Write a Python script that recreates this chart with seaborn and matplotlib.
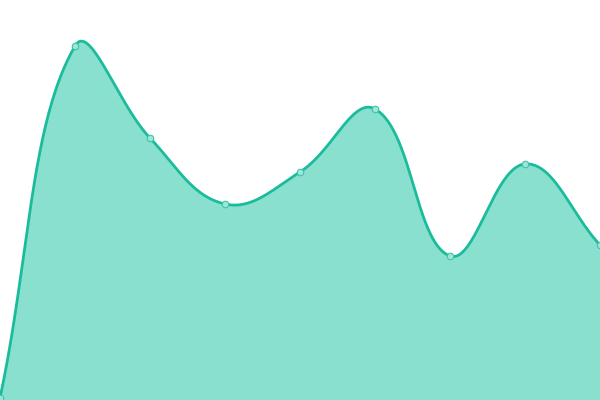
import numpy as np
import pandas as pd
import matplotlib
matplotlib.use("Agg")
import matplotlib.pyplot as plt
import seaborn as sns

x_vals = [0, 75, 150, 225, 300, 375, 450, 525, 600]
y_vals = [2, 354, 262, 196, 228, 291, 144, 236, 155]

LINE = "#1abc9c"
FILL = "#8ae0ce"
TENSION = 0.4


def smooth_curve(xs, ys, tension=TENSION, n=50):
    xs = np.asarray(xs, float)
    ys = np.asarray(ys, float)
    m = len(xs)
    cin, cout = [], []
    for i in range(m):
        px, py = (xs[i - 1], ys[i - 1]) if i > 0 else (xs[i], ys[i])
        nx, ny = (xs[i + 1], ys[i + 1]) if i < m - 1 else (xs[i], ys[i])
        vx, vy = nx - px, ny - py
        d01 = np.hypot(xs[i] - px, ys[i] - py)
        d12 = np.hypot(nx - xs[i], ny - ys[i])
        s = d01 + d12
        fa = tension * d01 / s if s > 0 else 0
        fb = tension * d12 / s if s > 0 else 0
        cin.append((np.clip(xs[i] - fa * vx, 0, 600), np.clip(ys[i] - fa * vy, 0, 400)))
        cout.append((np.clip(xs[i] + fb * vx, 0, 600), np.clip(ys[i] + fb * vy, 0, 400)))
    t = np.linspace(0, 1, n)
    cx, cy = [], []
    for i in range(m - 1):
        p0 = np.array([xs[i], ys[i]])
        p1 = np.array(cout[i])
        p2 = np.array(cin[i + 1])
        p3 = np.array([xs[i + 1], ys[i + 1]])
        b = ((1 - t) ** 3)[:, None] * p0 + (3 * (1 - t) ** 2 * t)[:, None] * p1 \
            + (3 * (1 - t) * t ** 2)[:, None] * p2 + (t ** 3)[:, None] * p3
        if i > 0:
            b = b[1:]
        cx.extend(b[:, 0]); cy.extend(b[:, 1])
    return np.array(cx), np.array(cy)


cx, cy = smooth_curve(x_vals, y_vals)
curve = pd.DataFrame({"x": cx, "y": cy})
pts = pd.DataFrame({"x": x_vals, "y": y_vals})

sns.set_style("white")
fig = plt.figure(figsize=(6, 4), dpi=100)
ax = fig.add_axes([0, 0, 1, 1])
ax.fill_between(cx, cy, 0, color=FILL, linewidth=0, zorder=1)
sns.lineplot(data=curve, x="x", y="y", sort=False, color=LINE, linewidth=2.0,
             ax=ax, zorder=2, estimator=None)
sns.scatterplot(data=pts, x="x", y="y", s=22, color="#9fe6d7", edgecolor="#3cc4a8",
                linewidth=0.8, ax=ax, zorder=3)
ax.set_xlim(0, 600)
ax.set_ylim(0, 400)
ax.axis("off")
fig.savefig("out.png", dpi=100)
